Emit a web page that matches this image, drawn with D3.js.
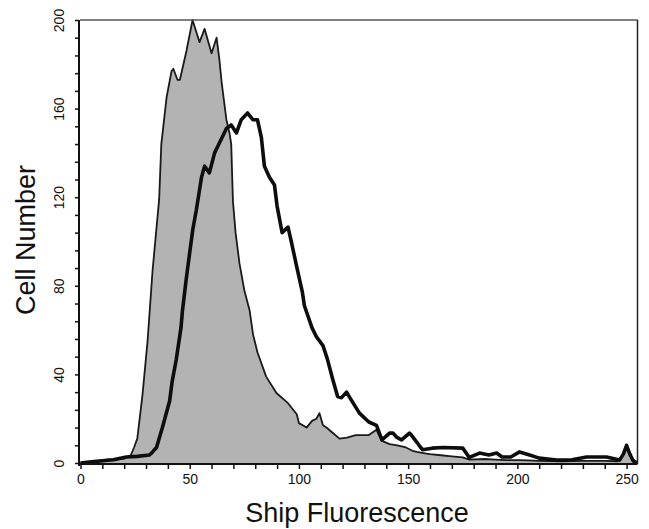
<!DOCTYPE html>
<html>
<head>
<meta charset="utf-8">
<script src="https://cdn.jsdelivr.net/npm/d3@7"></script>
<style>
  body { margin: 0; background: #fff; }
  svg { display: block; }
  .tick-label { font-family: "Liberation Sans", Arial, sans-serif; font-size: 14px; fill: #111; }
  .axis-label { font-family: "Liberation Sans", Arial, sans-serif; font-size: 27px; fill: #111; }
</style>
</head>
<body>
<div id="chart-area"></div>
<script>
const xTickLabels = [0, 50, 100, 150, 200, 250];
const xMinorTicks = [0, 10, 20, 30, 40, 50, 60, 70, 80, 90, 100, 110, 120, 130, 140, 150, 160, 170, 180, 190, 200, 210, 220, 230, 240, 250];
const yTickLabels = [0, 40, 80, 120, 160, 200];
const yMinorTicks = [0, 8, 16, 24, 32, 40, 48, 56, 64, 72, 80, 88, 96, 104, 112, 120, 128, 136, 144, 152, 160, 168, 176, 184, 192, 200];

// control histogram (grey filled)
const controlFluor = [0, 4, 8, 12, 16, 20, 23, 24.5, 26, 28.4, 30.7, 33, 36, 37, 39.4, 41.7, 42.5, 44.4, 45.5, 48.5, 51.3, 54.5, 56.8, 60, 62.3, 63.6, 64.6, 66.8, 68.2, 69, 69.8, 71, 72.8, 75, 77.4, 79, 81, 85, 89.7, 95, 99, 100, 103.5, 106, 108, 109.4, 111, 112.6, 115, 118.6, 122, 126, 132, 135.5, 138, 141.5, 145, 149, 152, 154, 157, 160, 165, 170, 175, 178, 185, 190, 195, 200, 205, 210, 220, 230, 240, 246, 248, 250, 252, 254, 255];
const controlCount = [0, 0.5, 1, 1.5, 1.5, 2, 3.5, 7, 11, 31, 55, 87, 119, 144, 165, 177, 178, 173, 173, 186, 200, 190, 196, 185, 192, 182, 172, 155, 149, 144, 118, 104, 90, 78, 69, 58, 50, 39, 31.6, 27, 22, 18, 16, 19, 20, 22.5, 17, 16, 14, 11, 11.5, 12.6, 12.6, 15, 10, 8.5, 8, 7, 5.5, 5, 4.5, 4, 3.5, 3, 2.5, 1.5, 1.8, 1.5, 1.3, 1.3, 1.2, 1, 0.8, 1, 1, 0.8, 3, 7, 3, 0.5, 0];

// Ship histogram (thick black line)
const shipFluor = [0, 5, 10, 15, 21, 26, 31.6, 33, 34.8, 37.5, 40.8, 42, 43.8, 46, 46.7, 48.4, 50, 51.5, 53, 55.4, 56.8, 59, 61.4, 63.6, 66.8, 69, 71.4, 73.6, 76.5, 78.9, 81, 82.8, 84.2, 86.5, 88.8, 90, 92.3, 95, 96.5, 98.9, 101.6, 102.5, 106, 108, 111, 113, 115.4, 117.7, 119.5, 121.8, 124, 127.7, 132, 135.5, 138, 141.5, 143, 144.7, 147, 150.6, 151.5, 155, 156.6, 161, 166, 175, 178, 182.7, 187, 190.5, 193, 197, 201, 205.6, 210, 218, 225, 231.7, 240.8, 246.8, 248.5, 250, 251.5, 253, 255];
const shipCount = [0, 0.5, 1, 1.5, 2.7, 3, 3.6, 5, 7, 16, 28, 37, 46.5, 61, 69, 83, 95, 106, 114, 129, 134, 131, 140, 144.5, 151, 152.6, 149, 155, 158, 155, 155, 147, 134, 129, 125.5, 116, 104, 106.5, 100, 89, 77, 71, 61, 57, 53, 47, 38, 30, 29.5, 32, 28.4, 22.5, 18.5, 17, 10.4, 13.5, 13.5, 11.7, 10.4, 13.5, 12.6, 8, 6, 6.7, 7, 6.7, 2.5, 4.5, 3.6, 4.5, 2.7, 2.7, 5, 3.6, 2.2, 1.3, 1.5, 2.7, 2.7, 1.3, 4, 8, 4, 1, 0];

const drawHistogram = () => {
  const chartSize = { width: 649, height: 529 };
  const plot = { left: 80, right: 637.5, top: 20, bottom: 463 };

  const svg = d3.select("#chart-area")
    .append("svg")
    .attr("width", chartSize.width)
    .attr("height", chartSize.height);

  const x = d3.scaleLinear().domain([0, 255]).range([80.5, plot.right]);
  const y = d3.scaleLinear().domain([0, 200]).range([plot.bottom, plot.top]);

  const control = d3.zip(controlFluor, controlCount);
  const ship = d3.zip(shipFluor, shipCount);

  const area = d3.area()
    .x(d => x(d[0]))
    .y0(y(0))
    .y1(d => y(d[1]));

  const line = d3.line()
    .x(d => x(d[0]))
    .y(d => y(d[1]));

  svg.append("path")
    .datum(control)
    .attr("d", area)
    .attr("fill", "#b3b3b3");

  svg.append("path")
    .datum(control)
    .attr("d", line)
    .attr("fill", "none")
    .attr("stroke", "#1a1a1a")
    .attr("stroke-width", 1.8)
    .attr("stroke-linejoin", "round");

  svg.append("path")
    .datum(ship)
    .attr("d", line)
    .attr("fill", "none")
    .attr("stroke", "#0d0d0d")
    .attr("stroke-width", 3.6)
    .attr("stroke-linejoin", "round");

  // frame: top and right edges
  svg.append("line")
    .attr("x1", plot.left).attr("x2", plot.right)
    .attr("y1", plot.top).attr("y2", plot.top)
    .attr("stroke", "#555").attr("stroke-width", 1.5);
  svg.append("line")
    .attr("x1", plot.right).attr("x2", plot.right)
    .attr("y1", plot.top).attr("y2", plot.bottom + 1)
    .attr("stroke", "#222").attr("stroke-width", 1.5);

  const xAxis = d3.axisBottom(x)
    .tickValues(xMinorTicks)
    .tickSize(5)
    .tickSizeOuter(0)
    .tickFormat(d => xTickLabels.includes(d) ? d : "");

  const gx = svg.append("g")
    .attr("transform", `translate(0, ${plot.bottom + 1})`)
    .call(xAxis);
  gx.select(".domain")
    .attr("d", `M${plot.left},0H${plot.right}`)
    .attr("stroke", "#111").attr("stroke-width", 2);
  gx.selectAll(".tick line").attr("stroke", "#111").attr("stroke-width", 1.5);
  gx.selectAll(".tick text")
    .attr("class", "tick-label")
    .attr("y", 10)
    .attr("font-family", null)
    .attr("font-size", null);

  const yAxis = d3.axisLeft(y)
    .tickValues(yMinorTicks)
    .tickSize(4)
    .tickSizeOuter(0)
    .tickFormat(d => yTickLabels.includes(d) ? d : "");

  const gy = svg.append("g")
    .attr("transform", `translate(${plot.left - 1}, 0)`)
    .call(yAxis);
  gy.select(".domain")
    .attr("d", `M0,${plot.top}V${plot.bottom + 3}`)
    .attr("stroke", "#111").attr("stroke-width", 2);
  gy.selectAll(".tick line").attr("stroke", "#111").attr("stroke-width", 1.5);
  gy.selectAll(".tick text")
    .attr("class", "tick-label")
    .attr("x", null)
    .attr("dy", null)
    .attr("text-anchor", "middle")
    .attr("transform", "translate(-15, 0) rotate(-90)")
    .attr("font-family", null)
    .attr("font-size", null);

  svg.append("text")
    .attr("class", "axis-label")
    .attr("x", 357)
    .attr("y", 522)
    .attr("text-anchor", "middle")
    .text("Ship Fluorescence");

  svg.append("text")
    .attr("class", "axis-label")
    .attr("transform", "translate(35, 240) rotate(-90)")
    .attr("text-anchor", "middle")
    .text("Cell Number");
};

window.onload = drawHistogram;
</script>
</body>
</html>
